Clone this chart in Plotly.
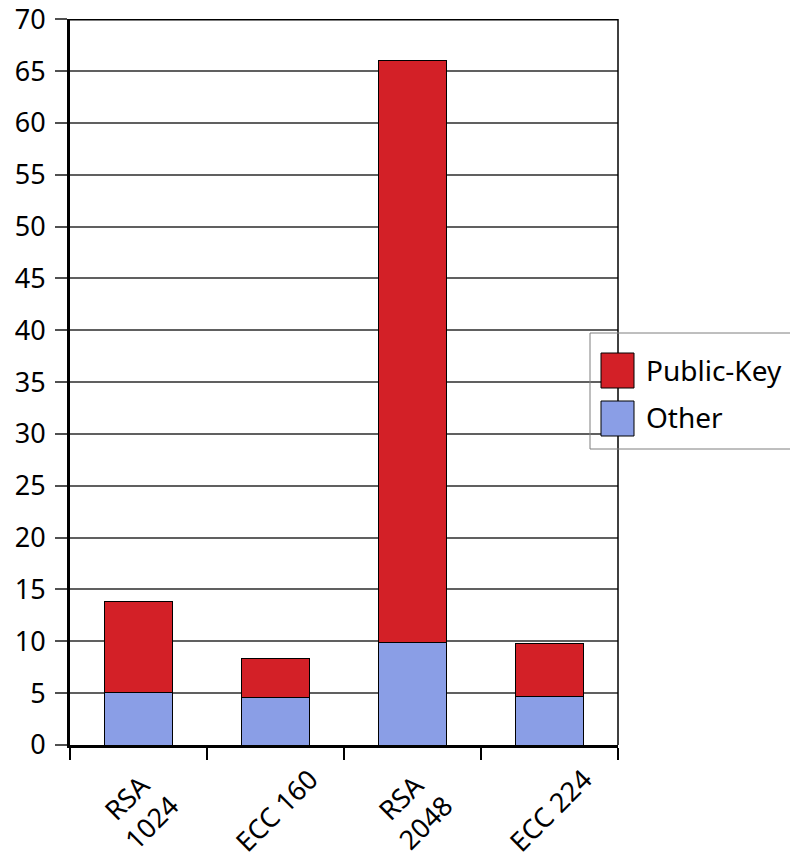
import plotly.graph_objects as go

categories = ["RSA 1024", "ECC 160", "RSA 2048", "ECC 224"]
category_labels = ["RSA<br>1024", "ECC 160", "RSA<br>2048", "ECC 224"]
other = [5.1, 4.6, 9.85, 4.7]
public_key = [8.75, 3.7, 56.2, 5.1]
colors = {"Public-Key": "#D32027", "Other": "#8A9EE6"}
y_ticks = list(range(0, 75, 5))

W, H = 790, 859
L, R, T, B = 70, 618, 19, 745  # plot area in pixels

FONT = "Noto Sans"

fig = go.Figure()
fig.add_bar(x=categories, y=other, name="Other",
            marker=dict(color=colors["Other"], line=dict(color="black", width=1)), width=0.5)
fig.add_bar(x=categories, y=public_key, name="Public-Key",
            marker=dict(color=colors["Public-Key"], line=dict(color="black", width=1)), width=0.5)


def px_x(p):
    return (p - L) / (R - L)


def px_y(p):
    return (B - p) / (B - T)


shapes = []
annotations = []
# frame lines top and right
shapes.append(dict(type="line", xref="paper", yref="paper", x0=0, x1=1, y0=0.999, y1=0.999,
                   line=dict(color="black", width=1.5), layer="above"))
shapes.append(dict(type="line", xref="paper", yref="paper", x0=1, x1=1, y0=0, y1=1,
                   line=dict(color="black", width=1.5), layer="above"))
# legend box
shapes.append(dict(type="rect", xref="paper", yref="paper", x0=px_x(590), x1=px_x(805),
                   y0=px_y(449), y1=px_y(333),
                   line=dict(color="#7f7f7f", width=1), fillcolor="rgba(0,0,0,0)"))
for name, top, ty in [("Public-Key", 353, 370), ("Other", 401, 417)]:
    shapes.append(dict(type="rect", xref="paper", yref="paper", x0=px_x(601), x1=px_x(634),
                       y0=px_y(top + 35), y1=px_y(top),
                       line=dict(color="black", width=1), fillcolor=colors[name]))
    annotations.append(dict(text=name, xref="paper", yref="paper", x=px_x(644), y=px_y(ty),
                            xanchor="left", yanchor="middle", showarrow=False,
                            font=dict(family=FONT, size=28, color="black")))
# rotated category labels, centered below each category
for cat, lab in zip(categories, category_labels):
    annotations.append(dict(text=lab, x=cat, xref="x", yref="paper", y=px_y(810),
                            xanchor="center", yanchor="middle", textangle=-45, showarrow=False,
                            align="center", font=dict(family=FONT, size=27, color="black")))

fig.update_layout(
    width=W, height=H,
    margin=dict(l=L, r=W - R, t=T, b=H - B, pad=0),
    barmode="stack",
    plot_bgcolor="white", paper_bgcolor="white",
    font=dict(family=FONT, size=27, color="black"),
    shapes=shapes, annotations=annotations,
    showlegend=False,
)
fig.update_yaxes(range=[0, 70.02], tickvals=y_ticks, showgrid=True, gridcolor="#606060", gridwidth=2,
                 showline=True, linecolor="black", linewidth=3, ticks="outside", ticklen=12,
                 tickcolor="#505050", tickwidth=2, zeroline=False, automargin=False,
                 ticklabeloverflow="allow", ticklabelstandoff=4,
                 tickfont=dict(family=FONT, size=27))
fig.update_xaxes(range=[-0.5, 3.5], showline=True, linecolor="black", linewidth=3, ticks="outside",
                 tickson="boundaries", ticklen=12, tickcolor="black", tickwidth=2,
                 showticklabels=False, automargin=False)

fig.write_html("out.html")
